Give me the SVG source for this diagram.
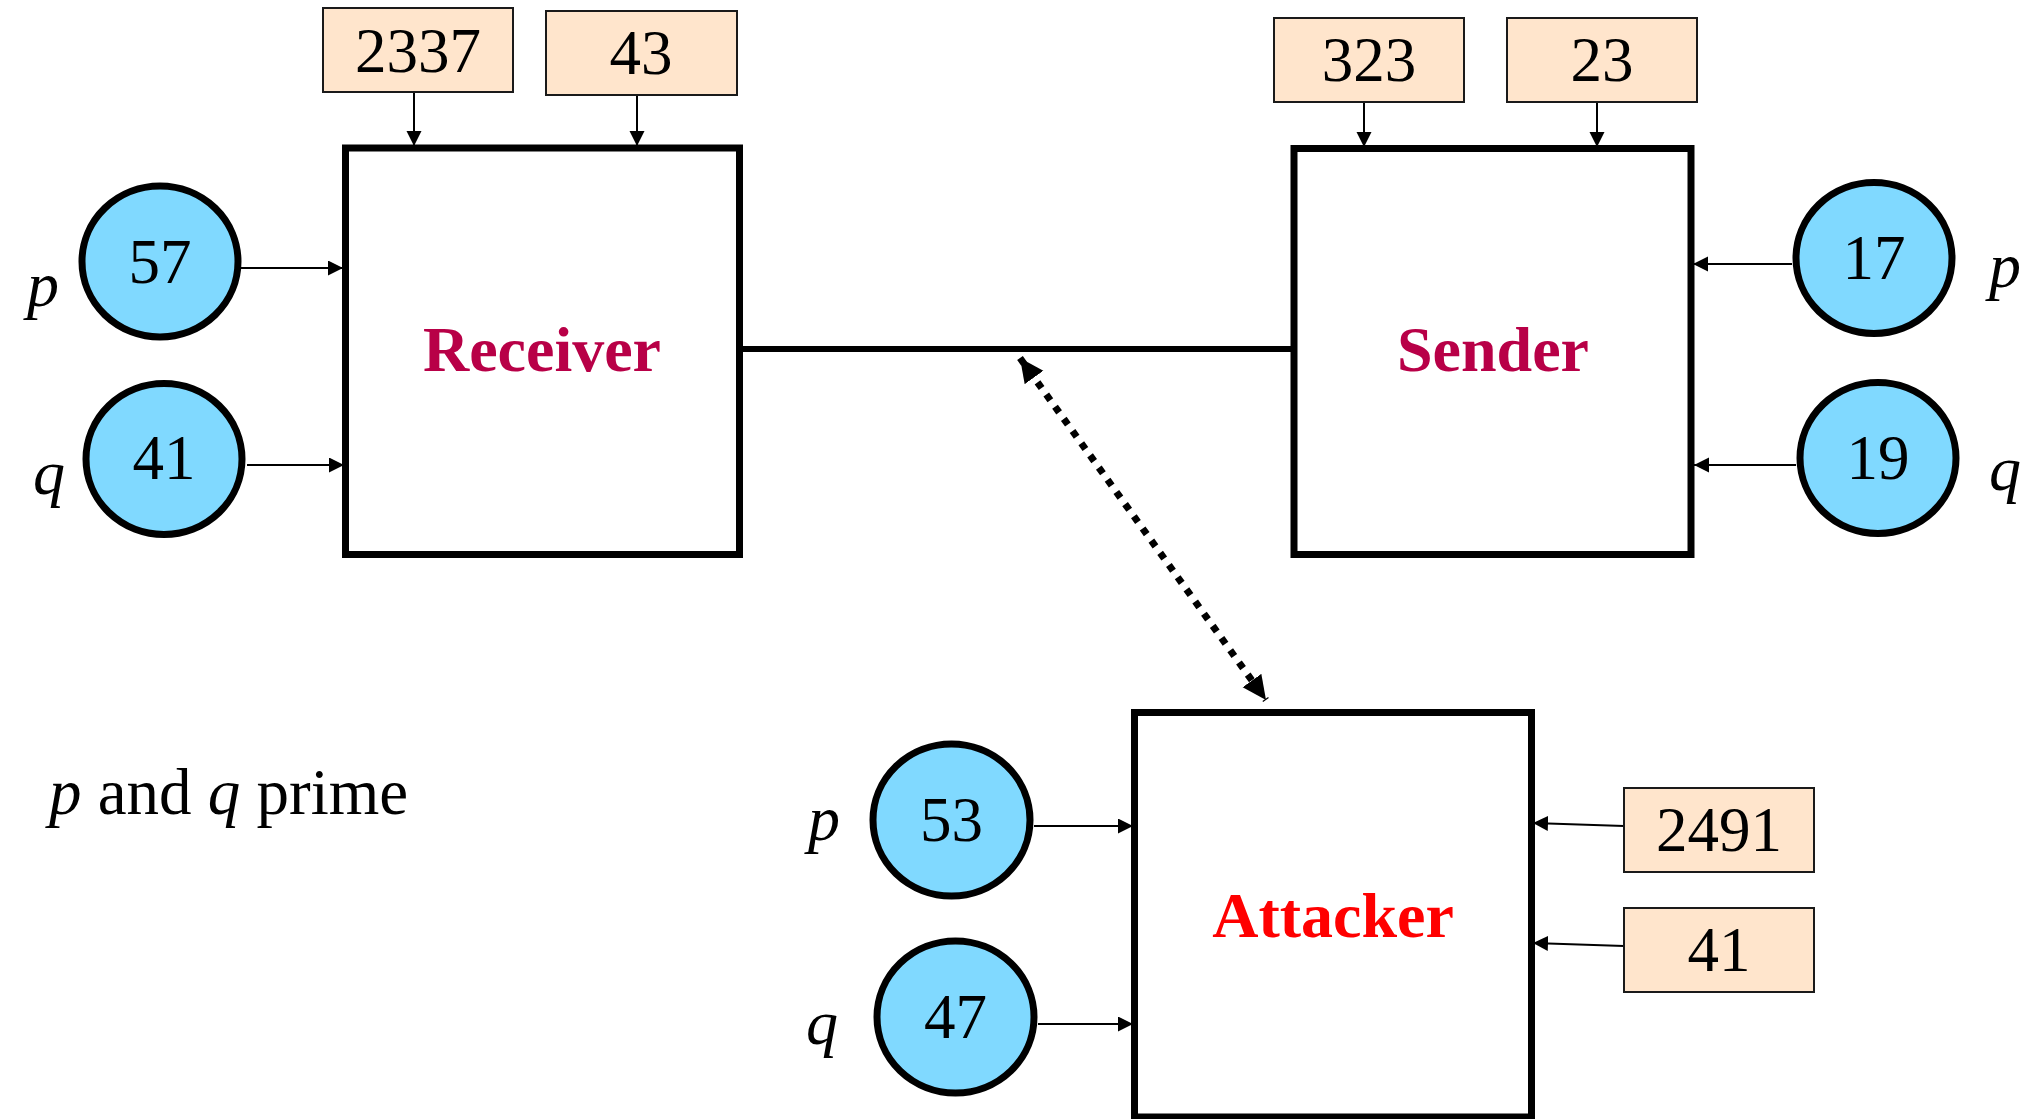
<svg xmlns="http://www.w3.org/2000/svg" width="2042" height="1119" viewBox="0 0 2042 1119">
  <defs>
    <marker id="tip" markerUnits="userSpaceOnUse" markerWidth="16" markerHeight="16" refX="15" refY="7.5" orient="auto">
      <path d="M0,0 L15,7.5 L0,15 z" fill="#000"/>
    </marker>
    <marker id="bigtip" markerUnits="userSpaceOnUse" markerWidth="26" markerHeight="26" refX="24" refY="11.5" orient="auto-start-reverse">
      <path d="M0,0 L24,11.5 L0,23 z" fill="#000"/>
    </marker>
    <style>
      .party { fill: #fff; stroke: #000; stroke-width: 7; }
      .key { fill: #ffe5cc; stroke: #1a1a1a; stroke-width: 2; }
      .prime { fill: #80d9ff; stroke: #000; stroke-width: 7; }
      .num { font-family: "Liberation Serif", "Times New Roman", serif; font-size: 63px; fill: #000; text-anchor: middle; }
      .var { font-family: "Liberation Serif", "Times New Roman", serif; font-size: 64px; font-style: italic; fill: #000; }
      .title { font-family: "Liberation Serif", "Times New Roman", serif; font-size: 64px; font-weight: bold; text-anchor: middle; }
      .feed { stroke: #000; stroke-width: 2; fill: none; marker-end: url(#tip); }
      .note { font-family: "Liberation Serif", "Times New Roman", serif; font-size: 65px; fill: #000; }
    </style>
  </defs>

  <rect width="2042" height="1119" fill="#fff"/>

  <!-- connectors -->
  <g id="connectors">
    <line x1="739" y1="349" x2="1294" y2="349" stroke="#000" stroke-width="6"/>
    <line x1="1020" y1="358" x2="1266" y2="700" stroke="#000" stroke-width="7" stroke-dasharray="7 8" marker-start="url(#bigtip)" marker-end="url(#bigtip)"/>
    <!-- receiver inputs -->
    <line class="feed" x1="414" y1="92" x2="414" y2="146"/>
    <line class="feed" x1="637" y1="95" x2="637" y2="146"/>
    <line class="feed" x1="241" y1="268" x2="343" y2="268"/>
    <line class="feed" x1="247" y1="465" x2="344" y2="465"/>
    <!-- sender inputs -->
    <line class="feed" x1="1364" y1="102" x2="1364" y2="147"/>
    <line class="feed" x1="1597" y1="102" x2="1597" y2="147"/>
    <line class="feed" x1="1792" y1="264" x2="1693" y2="264"/>
    <line class="feed" x1="1796" y1="465" x2="1694" y2="465"/>
    <!-- attacker inputs -->
    <line class="feed" x1="1034" y1="826" x2="1133" y2="826"/>
    <line class="feed" x1="1038" y1="1024" x2="1133" y2="1024"/>
    <line class="feed" x1="1624" y1="826" x2="1533" y2="823"/>
    <line class="feed" x1="1624" y1="946" x2="1533" y2="943"/>
  </g>

  <!-- Receiver -->
  <g id="receiver">
    <rect class="party" x="345.5" y="148" width="394" height="406.5"/>
    <text class="title" x="542" y="371" fill="#b80047">Receiver</text>
  </g>
  <g id="receiver-key-n">
    <rect class="key" x="323" y="8" width="190" height="84"/>
    <text class="num" x="418" y="72">2337</text>
  </g>
  <g id="receiver-key-e">
    <rect class="key" x="546" y="11" width="191" height="84"/>
    <text class="num" x="641" y="74">43</text>
  </g>
  <g id="receiver-p">
    <ellipse class="prime" cx="160" cy="261.5" rx="78" ry="75.5"/>
    <text class="num" x="160" y="283">57</text>
    <text class="var" x="27" y="306">p</text>
  </g>
  <g id="receiver-q">
    <ellipse class="prime" cx="164" cy="459" rx="78" ry="75.5"/>
    <text class="num" x="164" y="479">41</text>
    <text class="var" x="33" y="494">q</text>
  </g>

  <!-- Sender -->
  <g id="sender">
    <rect class="party" x="1294" y="148.5" width="397" height="406"/>
    <text class="title" x="1493" y="371" fill="#b80047">Sender</text>
  </g>
  <g id="sender-key-n">
    <rect class="key" x="1274" y="18" width="190" height="84"/>
    <text class="num" x="1369" y="81">323</text>
  </g>
  <g id="sender-key-e">
    <rect class="key" x="1507" y="18" width="190" height="84"/>
    <text class="num" x="1602" y="81">23</text>
  </g>
  <g id="sender-p">
    <ellipse class="prime" cx="1874" cy="258" rx="78" ry="75.5"/>
    <text class="num" x="1874" y="279">17</text>
    <text class="var" x="1989" y="287">p</text>
  </g>
  <g id="sender-q">
    <ellipse class="prime" cx="1878" cy="458" rx="78" ry="75.5"/>
    <text class="num" x="1878" y="479">19</text>
    <text class="var" x="1989" y="490">q</text>
  </g>

  <!-- Attacker -->
  <g id="attacker">
    <rect class="party" x="1134.5" y="712.5" width="397" height="404.5"/>
    <text class="title" x="1333" y="937" fill="#ff0000">Attacker</text>
  </g>
  <g id="attacker-p">
    <ellipse class="prime" cx="951.5" cy="820" rx="78.5" ry="76"/>
    <text class="num" x="951.5" y="841">53</text>
    <text class="var" x="808" y="840">p</text>
  </g>
  <g id="attacker-q">
    <ellipse class="prime" cx="955.5" cy="1017" rx="78.5" ry="76"/>
    <text class="num" x="955.5" y="1038">47</text>
    <text class="var" x="806" y="1044">q</text>
  </g>
  <g id="attacker-key-n">
    <rect class="key" x="1624" y="788" width="190" height="84"/>
    <text class="num" x="1719" y="851">2491</text>
  </g>
  <g id="attacker-key-e">
    <rect class="key" x="1624" y="908" width="190" height="84"/>
    <text class="num" x="1719" y="971">41</text>
  </g>

  <!-- caption -->
  <g id="caption">
    <text class="note" x="49" y="814"><tspan font-style="italic">p</tspan> and <tspan font-style="italic">q</tspan> prime</text>
  </g>
</svg>
